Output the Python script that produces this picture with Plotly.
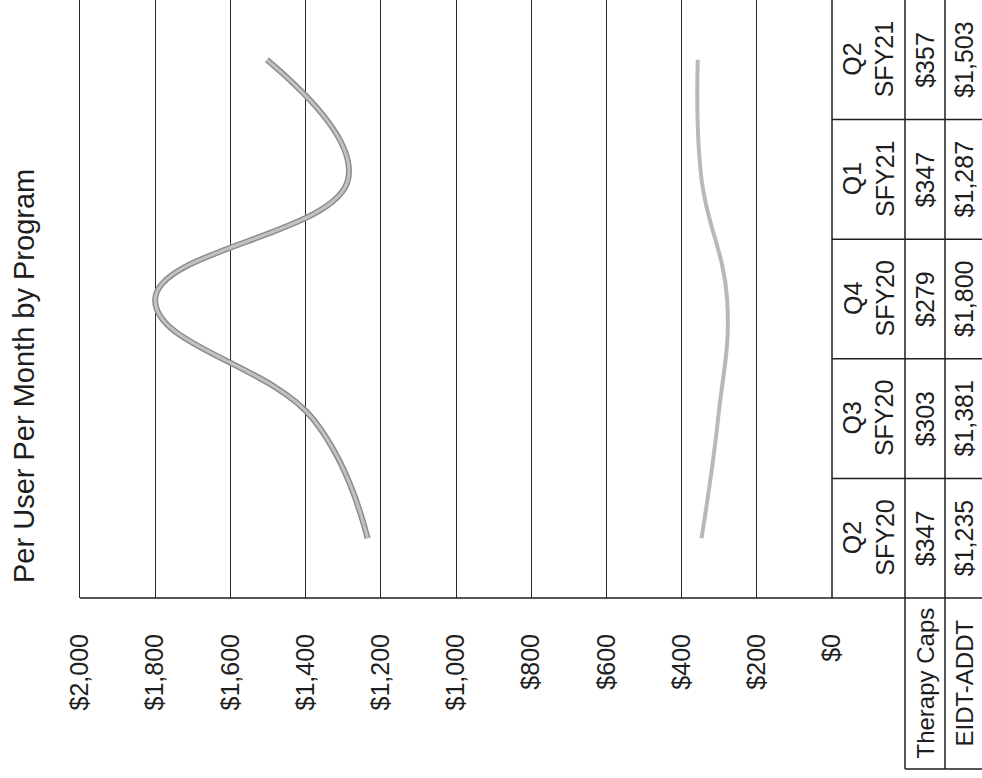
import plotly.graph_objects as go

W, H = 982, 778

quarters = ["Q2 SFY20", "Q3 SFY20", "Q4 SFY20", "Q1 SFY21", "Q2 SFY21"]
therapy_caps = [347, 303, 279, 347, 357]
eidt_addt = [1235, 1381, 1800, 1287, 1503]
programs = ["Therapy Caps", "EIDT-ADDT"]
tick_vals = [0, 200, 400, 600, 800, 1000, 1200, 1400, 1600, 1800, 2000]

FONT = "Liberation Sans, Arial, sans-serif"
INK = "#1e1e1e"


def px_x(p):
    return p / W


def px_y(p):
    return 1 - p / H


fig = go.Figure()

# EIDT-ADDT (darker edge + lighter core to mimic the scanned line)
fig.add_trace(go.Scatter(x=eidt_addt, y=quarters, mode="lines",
                         line=dict(color="#8c8c8c", width=6, shape="spline", smoothing=1.2),
                         hoverinfo="skip"))
fig.add_trace(go.Scatter(x=eidt_addt, y=quarters, mode="lines", name="EIDT-ADDT",
                         line=dict(color="#c2c2c2", width=3, shape="spline", smoothing=1.2)))
fig.add_trace(go.Scatter(x=therapy_caps, y=quarters, mode="lines", name="Therapy Caps",
                         line=dict(color="#b8b8b8", width=4, shape="spline", smoothing=1.2)))

x0, x1 = 80, 832      # $2,000 .. $0
y_axis = 598          # bottom line of plot area
row1, row2, tbl_bottom = 905, 945, 769

fig.update_layout(
    width=W, height=H, autosize=False, margin=dict(l=0, r=0, t=0, b=0, pad=0),
    paper_bgcolor="white", plot_bgcolor="white", showlegend=False,
    font=dict(family=FONT, color=INK),
    xaxis=dict(domain=[px_x(x0), px_x(x1)], range=[2000, 0], tickmode="array",
               tickvals=tick_vals, ticktext=[f"${v:,}" for v in tick_vals],
               tickangle=-90, ticks="", automargin=False,
               ticklabelstandoff=30, tickfont=dict(size=25, color=INK),
               showgrid=True, gridcolor="#2a2a2a", gridwidth=1.3,
               zeroline=False, showline=False, fixedrange=True),
    yaxis=dict(domain=[px_y(y_axis), 1], type="category", categoryarray=quarters,
               range=[-0.5, 4.5], showticklabels=False, ticks="", showgrid=False,
               automargin=False, zeroline=False, showline=True, linecolor="#2a2a2a",
               linewidth=1.3, fixedrange=True),
)

shapes = []
line = dict(color=INK, width=1.5)
# bottom axis line running into the table
shapes.append(dict(type="line", xref="paper", yref="paper", x0=px_x(x0), x1=1,
                   y0=px_y(y_axis), y1=px_y(y_axis), line=line))
# table vertical borders
shapes.append(dict(type="line", xref="paper", yref="paper", x0=px_x(x1), x1=px_x(x1),
                   y0=px_y(y_axis), y1=1, line=line))
for xb in (row1, row2):
    shapes.append(dict(type="line", xref="paper", yref="paper", x0=px_x(xb), x1=px_x(xb),
                       y0=px_y(tbl_bottom), y1=1, line=line))
shapes.append(dict(type="line", xref="paper", yref="paper", x0=px_x(row1), x1=1,
                   y0=px_y(tbl_bottom), y1=px_y(tbl_bottom), line=line))
# column separators between quarters
for i in range(len(quarters) - 1):
    shapes.append(dict(type="line", xref="paper", yref="y", x0=px_x(x1), x1=1,
                       y0=i + 0.5, y1=i + 0.5, line=line))
fig.update_layout(shapes=shapes)

ann = []


def label(text, x, y, yref="paper", size=25):
    ann.append(dict(text=text, xref="paper", yref=yref, x=x, y=y, textangle=-90,
                    xanchor="center", yanchor="middle", showarrow=False,
                    font=dict(size=size, color=INK)))


label("Per User Per Month by Program", px_x(24), px_y(376), size=29)
for i, q in enumerate(quarters):
    label(q.replace(" ", "<br>"), px_x((x1 + row1) / 2), q, yref="y")
    label(f"${therapy_caps[i]:,}", px_x((row1 + row2) / 2), q, yref="y")
    label(f"${eidt_addt[i]:,}", px_x(964), q, yref="y")
label(programs[0], px_x((row1 + row2) / 2), px_y((y_axis + tbl_bottom) / 2), size=24)
label(programs[1], px_x(964), px_y((y_axis + tbl_bottom) / 2), size=24)
fig.update_layout(annotations=ann)

fig.write_html("out.html", config={"responsive": False, "displayModeBar": False},
               post_script="document.body.style.margin='0';document.body.style.overflow='hidden';")
